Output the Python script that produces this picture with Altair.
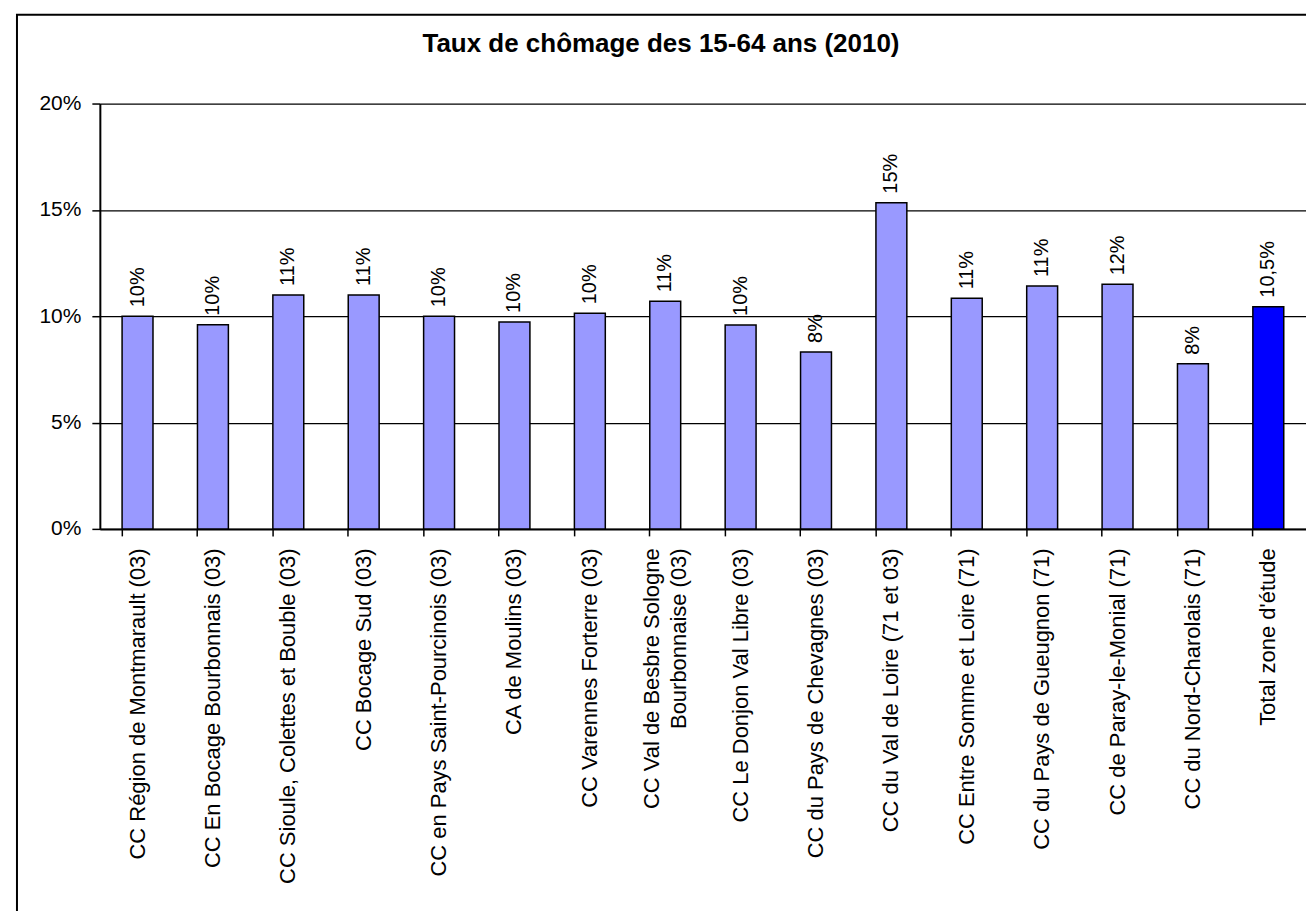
import altair as alt
import pandas as pd

categories = [
    "CC Région de Montmarault (03)",
    "CC En Bocage Bourbonnais (03)",
    "CC Sioule, Colettes et Bouble (03)",
    "CC Bocage Sud (03)",
    "CC en Pays Saint-Pourcinois (03)",
    "CA de Moulins (03)",
    "CC Varennes Forterre (03)",
    "CC Val de Besbre Sologne|Bourbonnaise (03)",
    "CC Le Donjon Val Libre (03)",
    "CC du Pays de Chevagnes (03)",
    "CC du Val de Loire (71 et 03)",
    "CC Entre Somme et Loire (71)",
    "CC du Pays de Gueugnon (71)",
    "CC de Paray-le-Monial (71)",
    "CC du Nord-Charolais (71)",
    "Total zone d'étude",
]
rates = [10.0, 9.6, 11.0, 11.0, 10.0, 9.73, 10.14, 10.7, 9.59, 8.32,
         15.34, 10.84, 11.42, 11.5, 7.76, 10.45]
value_labels = ["10%", "10%", "11%", "11%", "10%", "10%", "10%", "11%", "10%", "8%",
                "15%", "11%", "11%", "12%", "8%", "10,5%"]
groups = ["CC"] * 15 + ["Total"]
y_ticks = [0, 5, 10, 15, 20]

df = pd.DataFrame({"cat": categories, "rate": rates, "label": value_labels, "group": groups})

FONT = "Liberation Sans"
W, H = 1208, 426

x_enc = alt.X(
    "cat:N",
    sort=categories,
    scale=alt.Scale(paddingInner=0.59, paddingOuter=0.295),
    axis=alt.Axis(
        title=None,
        labelAngle=270,
        labelAlign="right",
        labelBaseline="middle",
        labelExpr="split(datum.label, '|')",
        labelLineHeight=27,
        labelLimit=500,
        labelOverlap=False,
        labelPadding=12,
        labelFontSize=22,
        labelOffset={"condition": {"test": "indexof(datum.value, '|') >= 0", "value": -13}, "value": 0},
        tickSize=7,
        bandPosition=0,
        grid=False,
    ),
)
y_enc = alt.Y(
    "rate:Q",
    scale=alt.Scale(domain=[0, 20], nice=False),
    axis=alt.Axis(
        title=None,
        values=y_ticks,
        labelExpr="datum.value + '%'",
        tickSize=8,
        labelPadding=11,
        grid=True,
    ),
)

base = alt.Chart(df)
bars = base.mark_bar(stroke="black", strokeWidth=1.5).encode(
    x=x_enc,
    y=y_enc,
    color=alt.Color("group:N", scale=alt.Scale(domain=["CC", "Total"], range=["#9999FF", "#0000FF"]), legend=None),
)
texts = base.mark_text(angle=270, align="left", baseline="middle", dx=9,
                       fontSize=20, font=FONT, color="black").encode(
    x=alt.X("cat:N", sort=categories),
    y="rate:Q",
    text="label:N",
)
frame = alt.Chart(pd.DataFrame({"f": [0]})).mark_rect(
    fillOpacity=0, stroke="black", strokeWidth=2
).encode(
    x=alt.value(-83), x2=alt.value(1212), y=alt.value(-89), y2=alt.value(830)
)

chart = alt.layer(bars, texts, frame).properties(
    width=W,
    height=H,
    autosize=alt.AutoSizeParams(type="none"),
    padding={"left": 100, "top": 103, "right": 0, "bottom": 382},
    title=alt.TitleParams(
        "Taux de chômage des 15-64 ans (2010)",
        fontSize=26, font=FONT, fontWeight="bold", color="black",
        anchor="middle", dx=-42, frame="group", baseline="alphabetic", offset=-64,
    ),
).configure(background="white").configure_view(stroke="transparent").configure_axis(
    domainColor="black", domainWidth=2, tickColor="black", tickWidth=1.5,
    gridColor="black", gridWidth=1.2, gridOpacity=1, labelColor="black",
    labelFont=FONT, labelFontSize=21,
)

chart.save("out.html", embed_options={"renderer": "svg", "actions": False})
